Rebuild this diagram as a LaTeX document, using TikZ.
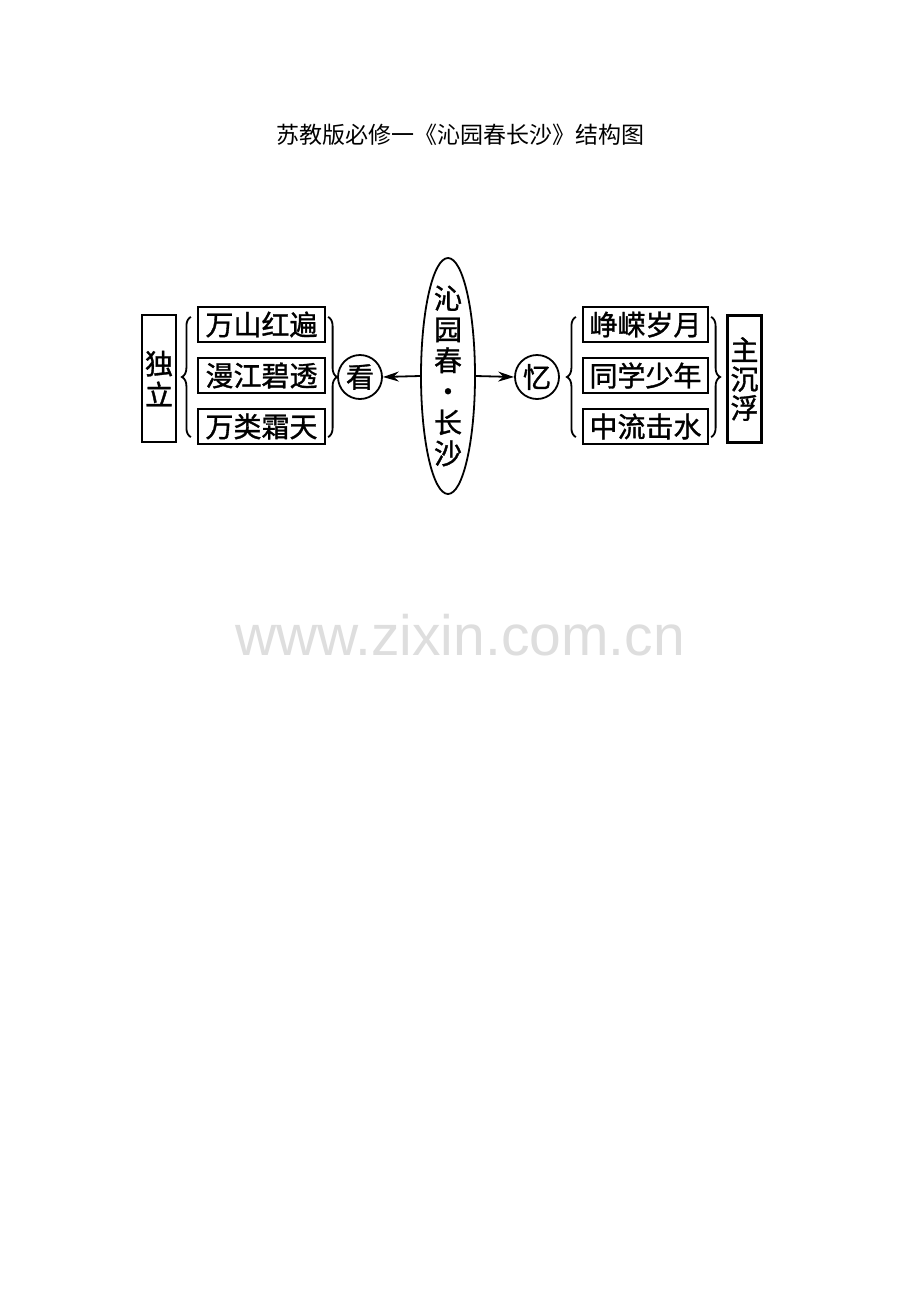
\documentclass[tikz,border=0pt]{standalone}
\usepackage{fontspec}
\newfontfamily\cjk{Noto Sans CJK SC}
\newfontfamily\cjkb{Noto Sans CJK SC}[FakeBold=1.2]
\newfontfamily\wmfont{Liberation Sans}
\usetikzlibrary{decorations.pathreplacing,arrows.meta,shapes.geometric}
\begin{document}
\begin{tikzpicture}[x=1pt,y=-1pt,
  txt/.style={font=\cjkb\fontsize{28}{30}\selectfont},
  box/.style={txt,draw,line width=2.2pt,minimum width=127,minimum height=35,inner sep=0},
  vbox/.style={txt,draw,line width=2.2pt,minimum width=34,minimum height=127,inner sep=0,align=center},
  circ/.style={txt,draw,circle,line width=1.8pt,minimum size=44,inner sep=0},
  brc/.style={decorate,decoration={brace,amplitude=9pt},line width=1.8pt},
  arr/.style={line width=1.8pt,-{Stealth[length=16pt,width=10pt]}}]
\useasboundingbox (0,0) rectangle (920,1302);
\fill[white] (0,0) rectangle (920,1302);
\node[font=\cjk\fontsize{23}{23}\selectfont] (title) at (460,135) {苏教版必修一《沁园春长沙》结构图};
\node[font=\wmfont\fontsize{57}{57}\selectfont,text=black!13] (wm) at (460,635) {www.zixin.com.cn};
% centre ellipse
\node[txt,draw,ellipse,line width=1.8pt,minimum width=54,minimum height=236,inner sep=-10pt,align=center,
  font=\cjkb\fontsize{28}{31}\selectfont] (e) at (448,376) {沁\\园\\春\\・\\长\\沙};
% left side
\node[circ] (kan) at (360,377) {看};
\node[box] (l1) at (261.5,324.5) {万山红遍};
\node[box] (l2) at (261.5,375.5) {漫江碧透};
\node[box] (l3) at (261.5,426.5) {万类霜天};
\node[vbox,font=\cjkb\fontsize{28}{31}\selectfont] (dl) at (159,378.5) {独\\立};
% right side
\node[circ] (yi) at (537,377) {忆};
\node[box,minimum width=125] (r1) at (645.5,324.5) {峥嵘岁月};
\node[box,minimum width=125] (r2) at (645.5,375.5) {同学少年};
\node[box,minimum width=125] (r3) at (645.5,426.5) {中流击水};
\node[vbox,font=\cjkb\fontsize{28}{29}\selectfont] (zcf) at (744.5,379) {主\\沉\\浮};
% arrows
\draw[arr] (e.west) -- (kan.east);
\draw[arr] (e.east) -- (yi.west);
% braces
\draw[brc] ([xshift=-6pt,yshift=8pt]l3.south west) -- ([xshift=-6pt,yshift=-11pt]l1.north west);
\draw[brc] ([xshift=2pt,yshift=-11pt]l1.north east) -- ([xshift=2pt,yshift=8pt]l3.south east);
\draw[brc] ([xshift=-6pt,yshift=8pt]r3.south west) -- ([xshift=-6pt,yshift=-11pt]r1.north west);
\draw[brc] ([xshift=2pt,yshift=-11pt]r1.north east) -- ([xshift=2pt,yshift=8pt]r3.south east);
\end{tikzpicture}
\end{document}
